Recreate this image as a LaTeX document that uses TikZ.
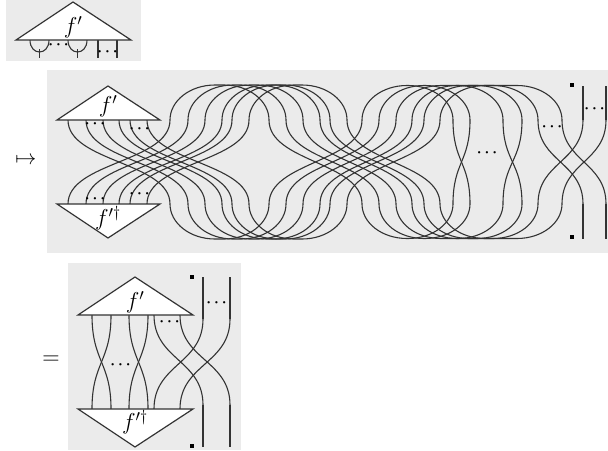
\documentclass[tikz,border=0pt]{standalone}
\usepackage{fix-cm}
\usepackage{amssymb}
\definecolor{panelbg}{HTML}{EBEBEB}
\definecolor{wirec}{HTML}{333333}
\tikzset{
  panel/.style={fill=panelbg,draw=none},
  wire/.style={draw=wirec,line width=1.1pt},
  tri/.style={draw=wirec,fill=white,line width=1.2pt,line join=miter},
  lab/.style={inner sep=0pt,font=\fontsize{23}{25}\selectfont},
  dots/.style={inner sep=0pt,font=\fontsize{15}{17}\selectfont\boldmath},
  sq/.style={fill=black,draw=none,minimum size=4pt,inner sep=0pt,rectangle}
}
% S-curve from (a,p) to (b,q) with vertical tangents
\newcommand{\scurve}[4]{\draw[wire] (#1,#2) .. controls (#1,{(#2+#4)/2}) and (#3,{(#2+#4)/2}) .. (#3,#4);}
% arc from (a,y0) to (b,y0), extreme at yt
\newcommand{\archw}[4]{\draw[wire] (#1,#3) .. controls (#1,{#3+.55*(#4-#3)}) and ({#1+20},#4) .. ({#1+45},#4) -- ({#2-45},#4) .. controls ({#2-20},#4) and (#2,{#3+.55*(#4-#3)}) .. (#2,#3);}
\begin{document}
\begin{tikzpicture}[x=1pt,y=-1pt]
\useasboundingbox (0,0) rectangle (608,450);
\fill[panel] (6,0) rectangle (141,61);
\fill[panel] (47,70) rectangle (608,253);
\fill[panel] (68,263) rectangle (241,450);

% --- top panel ---
\foreach \a/\b/\m in {30/49/39.5,68/87/77.5}{
  \draw[wire] (\a,40) .. controls (\a,56) and (\b,56) .. (\b,40);
  \draw[wire] (\m,49) -- (\m,58);
}
\draw[wire] (98,40) -- (98,58);
\draw[wire] (117,40) -- (117,58);
\draw[tri] (73,2) -- (131,40) -- (16,40) -- cycle;
\node[lab] (topf) at (73,27) {$f'$};
\node[dots] (topd1) at (58.5,45) {$\cdots$};
\node[dots] (topd2) at (107.5,52) {$\cdots$};

% --- middle panel ---
\node[font=\fontsize{21}{23}\selectfont,inner sep=0pt] (mapsto) at (26,161) {$\mapsto$};
\foreach \a/\b/\c/\d/\e in {68/170/269/362/453,86/188/286/379/470,103/205/303/396/503,119/222/320/412/522,130/232/330/424/538,147/249/347/440/562}{
  % first braid
  \scurve{\a}{120}{\b}{204}
  \scurve{\a}{204}{\b}{120}
  % first arcs
  \archw{\b}{\c}{120}{85}
  \archw{\b}{\c}{204}{239}
  % second braid
  \scurve{\c}{120}{\d}{204}
  \scurve{\c}{204}{\d}{120}
  % second arcs
  \archw{\d}{\e}{120}{85.5}
  \archw{\d}{\e}{204}{238.5}
}
\scurve{453}{120}{470}{204}
\scurve{470}{120}{453}{204}
\scurve{503}{120}{522}{204}
\scurve{522}{120}{503}{204}
\foreach \a/\b in {538/583,562/606}{
  \scurve{\a}{120}{\b}{204}
  \scurve{\a}{204}{\b}{120}
  \draw[wire] (\b,204) -- (\b,239);
  \draw[wire] (\b,120) -- (\b,86);
}
\draw[tri] (108,86) -- (160,120) -- (57,120) -- cycle;
\draw[tri] (108,238) -- (160,204) -- (57,204) -- cycle;
\node[lab] (mf) at (108,106) {$f'$};
\node[lab] (mfd) at (108,218) {$f'^{\dagger}$};
\node[sq] (ms1) at (572,85) {};
\node[sq] (ms2) at (572,237) {};
\node[dots] (md1) at (95,124) {$\cdots$};
\node[dots] (md2) at (139.5,129) {$\cdots$};
\node[dots] (md3) at (95,199) {$\cdots$};
\node[dots] (md4) at (139.5,194) {$\cdots$};
\node[dots] (md5) at (487,153) {$\cdots$};
\node[dots] (md6) at (552,127) {$\cdots$};
\node[dots] (md7) at (594.5,109) {$\cdots$};

% --- bottom panel ---
\node[font=\fontsize{24}{26}\selectfont,inner sep=0pt] (eq) at (51,360) {$=$};
\scurve{92}{315}{111}{409}
\scurve{111}{315}{92}{409}
\scurve{129}{315}{148}{409}
\scurve{148}{315}{129}{409}
\foreach \a/\b in {154/203,180/230}{
  \scurve{\a}{315}{\b}{405}
  \scurve{\a}{409}{\b}{319}
  \draw[wire] (\b,405) -- (\b,447);
  \draw[wire] (\b,319) -- (\b,277);
}
\draw[tri] (135,277) -- (193,315) -- (78,315) -- cycle;
\draw[tri] (135,447) -- (193,409) -- (78,409) -- cycle;
\node[lab] (bf) at (135,302) {$f'$};
\node[lab] (bfd) at (135,422) {$f'^{\dagger}$};
\node[sq] (bs1) at (192,276.5) {};
\node[sq] (bs2) at (192,446) {};
\node[dots] (bd1) at (169.5,322) {$\cdots$};
\node[dots] (bd2) at (216.5,303) {$\cdots$};
\node[dots] (bd3) at (120.5,365) {$\cdots$};
\end{tikzpicture}
\end{document}
